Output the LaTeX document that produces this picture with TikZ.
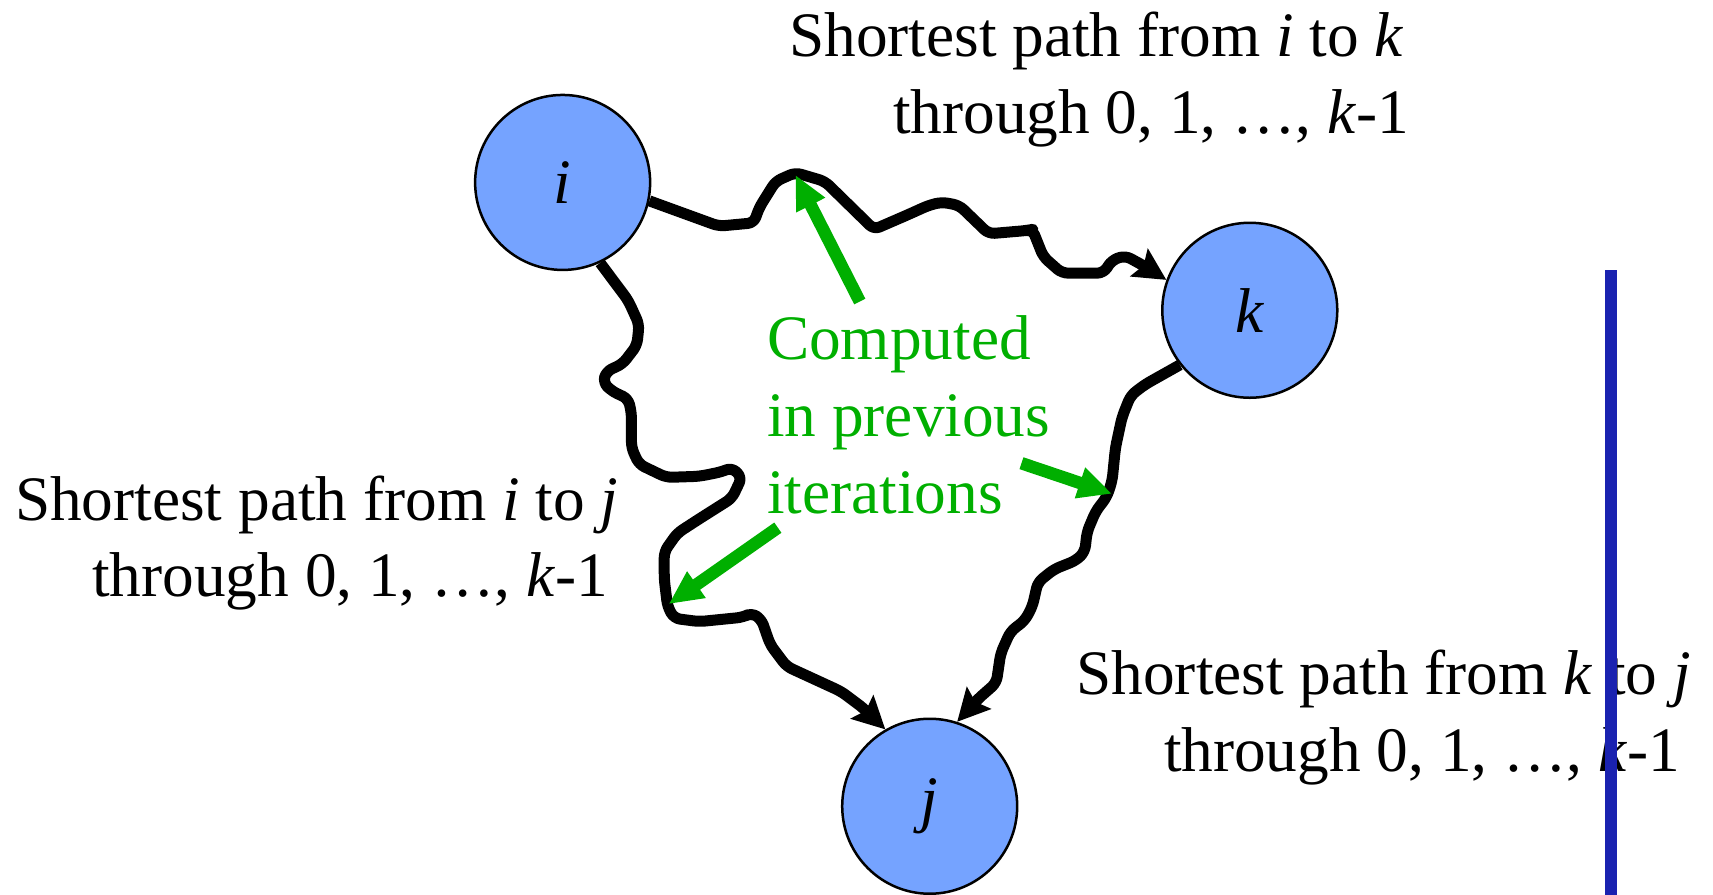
\documentclass[tikz,border=0pt]{standalone}
\usepackage{fontspec}
\setmainfont{Liberation Serif}
\usetikzlibrary{arrows.meta}
\definecolor{nodeblue}{RGB}{117,163,255}
\definecolor{txtgreen}{RGB}{0,175,0}
\definecolor{barblue}{RGB}{26,34,176}
\begin{document}
\begin{tikzpicture}[x=1.0925pt,y=-1.0925pt,
  vertex/.style={circle, draw=black, line width=2.5pt, fill=nodeblue, minimum size=175pt, inner sep=0pt, font=\fontsize{63.3}{76}\selectfont\itshape},
  wavy/.style={line width=11pt, rounded corners=6pt, line join=round, -{Stealth[length=32pt,width=32pt,inset=5pt]}},
  greenarrow/.style={draw=txtgreen, line width=12.5pt, -{Triangle[length=34pt,width=30pt]}},
  lbl/.style={inner sep=0pt, font=\fontsize{63.3}{76}\selectfont},
  glbl/.style={inner sep=0pt, font=\fontsize{63.3}{76}\selectfont, text=txtgreen, anchor=base west}
]
\useasboundingbox (0,0) rectangle (1568,819);

\node[vertex] (i) at (515,167) {i};
\node[vertex] (k) at (1144,284) {k};
\node[vertex] (j) at (851,738) {j};

% wavy paths
\draw[wavy] (i.-12) -- (658,207) -- (690,204) -- (695,190) -- (710,166) -- (728,158) -- (755,166) -- (800,210) -- (830,197) -- (850,188) -- (862,185) -- (878,188) -- (905,214) -- (940,211) -- (945,210) -- (955,235) -- (972,250) -- (1010,250) -- (1018,238) -- (1030,234) -- (1050,245) -- (k.160);
\draw[wavy] (i.-65) -- (575,275) -- (585,297) -- (583,316) -- (570,333) -- (555,340) -- (552,350) -- (560,358) -- (575,365) -- (578,378) -- (578,410) -- (585,425) -- (610,437) -- (640,436) -- (660,432) -- (670,428) -- (679,437) -- (670,456) -- (640,475) -- (620,488) -- (608,505) -- (608,530) -- (611,555) -- (617,566) -- (640,569) -- (680,565) -- (688,561) -- (697,567) -- (705,590) -- (720,610) -- (770,633) -- (790,648) -- (j.120);
\draw[wavy] (k.218) -- (1048,352) -- (1035,362) -- (1027,382) -- (1021,410) -- (1018,440) -- (1013,455) -- (1003,468) -- (995,487) -- (993,505) -- (985,513) -- (965,521) -- (950,533) -- (945,555) -- (938,568) -- (925,578) -- (916,598) -- (912,625) -- (895,640) -- (j.72);

% labels
\node[lbl, anchor=base east] (ik1) at (1285,52) {Shortest path from \textit{i} to \textit{k}};
\node[lbl, anchor=base east] (ik2) at (1290,122) {through 0, 1, …, \textit{k}-1};
\node[lbl, anchor=base east] (ij1) at (566,476) {Shortest path from \textit{i} to \textit{j}};
\node[lbl, anchor=base east] (ij2) at (557,546) {through 0, 1, …, \textit{k}-1};
\node[lbl, anchor=base east] (kj1) at (1548,636) {Shortest path from \textit{k} to \textit{j}};
\node[lbl, anchor=base east] (kj2) at (1538,706) {through 0, 1, …, \textit{k}-1};

\node[glbl] (g1) at (702,329) {Computed};
\node[glbl] (g2) at (702,400) {in previous};
\node[glbl] (g3) at (702,470) {iterations};

\coordinate (a1s) at (787,276); \coordinate (a1e) at (728,160);
\coordinate (a2s) at (712,483); \coordinate (a2e) at (612,553);
\coordinate (a3s) at (935,424); \coordinate (a3e) at (1018,452);
\draw[greenarrow] (a1s) -- (a1e);
\draw[greenarrow] (a2s) -- (a2e);
\draw[greenarrow] (a3s) -- (a3e);

% blue bar
\fill[barblue] (1469,247) rectangle (1480,819);
\end{tikzpicture}
\end{document}
